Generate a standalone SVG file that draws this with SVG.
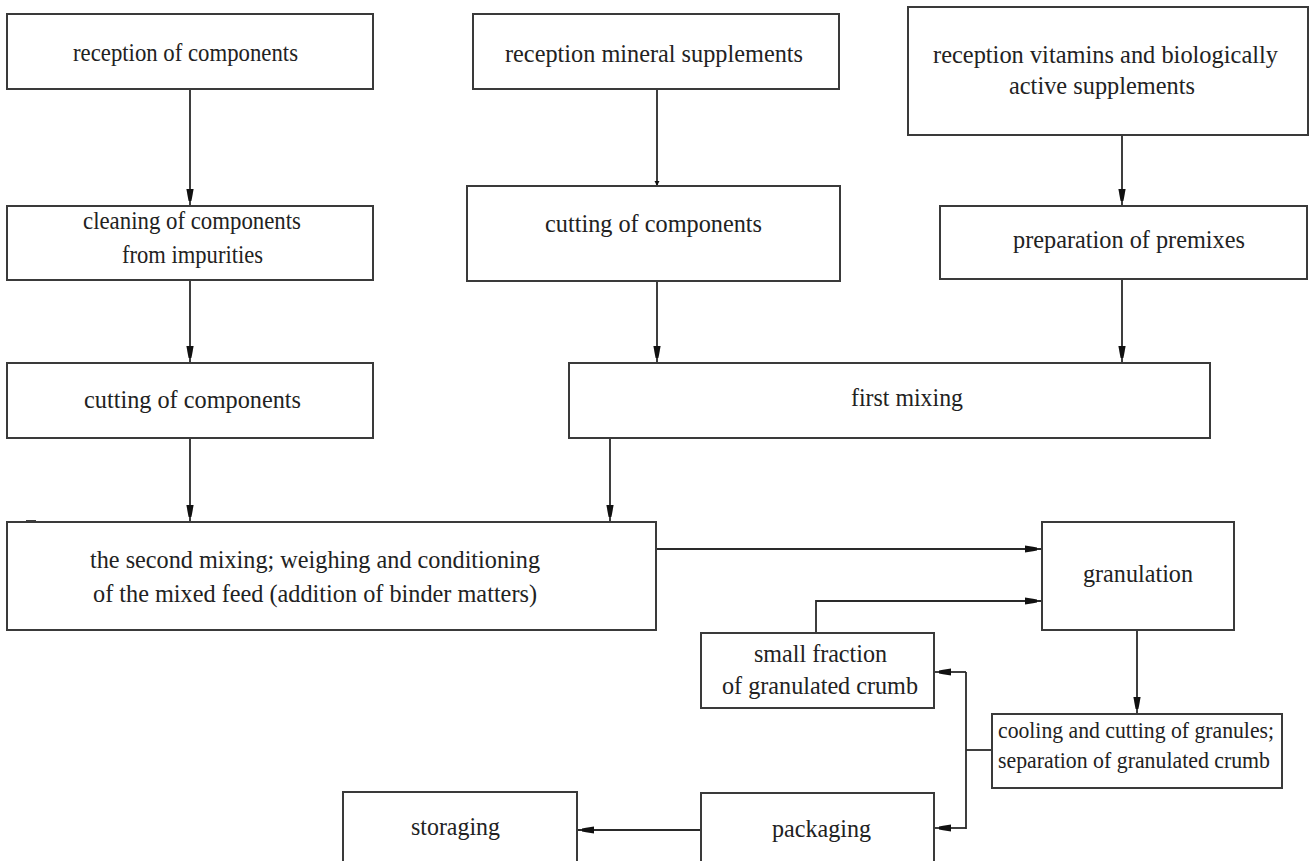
<svg xmlns="http://www.w3.org/2000/svg" width="1309" height="861" viewBox="0 0 1309 861">
<style>
.box{fill:#fff;stroke:#3a3a3a;stroke-width:2}
.t{font-family:'Liberation Serif','DejaVu Serif',serif;font-size:26px;fill:#222}
.s{font-size:22.5px}
.c{fill:none;stroke:#2a2a2a;stroke-width:1.8}
</style>
<defs>
<marker id="ah" viewBox="-18 -5 18 10" refX="0" refY="0" markerWidth="18" markerHeight="10" markerUnits="userSpaceOnUse" orient="auto">
<path d="M-17,-3.6 L-9,-2.2 L-5,-1.4 L-5,1.4 L-9,2.2 L-17,3.6 Z" fill="#111"/>
</marker>
<marker id="ahs" viewBox="-8 -4 8 8" refX="0" refY="0" markerWidth="8" markerHeight="8" markerUnits="userSpaceOnUse" orient="auto">
<path d="M-5,-2.5 L0,0 L-5,2.5 Z" fill="#111"/>
</marker>
</defs>
<rect width="1309" height="861" fill="#fff"/>
<g id="connectors">
<line class="c" x1="190" y1="89" x2="190" y2="206" marker-end="url(#ah)"/>
<line class="c" x1="190" y1="280" x2="190" y2="363" marker-end="url(#ah)"/>
<line class="c" x1="190" y1="438" x2="190" y2="522" marker-end="url(#ah)"/>
<line class="c" x1="657" y1="89" x2="657" y2="186" marker-end="url(#ahs)"/>
<line class="c" x1="657" y1="281" x2="657" y2="363" marker-end="url(#ah)"/>
<line class="c" x1="1122" y1="135" x2="1122" y2="206" marker-end="url(#ah)"/>
<line class="c" x1="1122" y1="279" x2="1122" y2="363" marker-end="url(#ah)"/>
<line class="c" x1="610" y1="438" x2="610" y2="522" marker-end="url(#ah)"/>
<line class="c" x1="656" y1="549" x2="1042" y2="549" marker-end="url(#ah)"/>
<polyline class="c" points="816,633 816,601 1042,601" marker-end="url(#ah)"/>
<line class="c" x1="1137" y1="630" x2="1137" y2="714" marker-end="url(#ah)"/>
<line class="c" x1="992" y1="750" x2="966" y2="750"/>
<line class="c" x1="966" y1="672" x2="966" y2="829"/>
<line class="c" x1="966" y1="672" x2="934" y2="672" marker-end="url(#ah)"/>
<line class="c" x1="966" y1="828" x2="934" y2="828" marker-end="url(#ah)"/>
<line class="c" x1="701" y1="830" x2="577" y2="830" marker-end="url(#ah)"/>
<line class="c" x1="26" y1="521" x2="36" y2="521" stroke-width="2"/>
</g>
<g id="reception-components">
<rect class="box" x="7" y="14" width="366" height="75"/>
<text class="t" x="73" y="61" textLength="225" lengthAdjust="spacingAndGlyphs">reception of components</text>
</g>
<g id="cleaning">
<rect class="box" x="7" y="206" width="366" height="74"/>
<text class="t" x="83" y="229" textLength="218" lengthAdjust="spacingAndGlyphs">cleaning of components</text>
<text class="t" x="122" y="263" textLength="141" lengthAdjust="spacingAndGlyphs">from impurities</text>
</g>
<g id="cutting-left">
<rect class="box" x="7" y="363" width="366" height="75"/>
<text class="t" x="84" y="408" textLength="217" lengthAdjust="spacingAndGlyphs">cutting of components</text>
</g>
<g id="second-mixing">
<rect class="box" x="7" y="522" width="649" height="108"/>
<text class="t" x="90" y="568" textLength="450" lengthAdjust="spacingAndGlyphs">the second mixing; weighing and conditioning</text>
<text class="t" x="93" y="602" textLength="444" lengthAdjust="spacingAndGlyphs">of the mixed feed (addition of binder matters)</text>
</g>
<g id="reception-mineral">
<rect class="box" x="473" y="14" width="366" height="75"/>
<text class="t" x="505" y="62" textLength="298" lengthAdjust="spacingAndGlyphs">reception mineral supplements</text>
</g>
<g id="cutting-mid">
<rect class="box" x="467" y="186" width="373" height="95"/>
<text class="t" x="545" y="232" textLength="217" lengthAdjust="spacingAndGlyphs">cutting of components</text>
</g>
<g id="reception-vitamins">
<rect class="box" x="908" y="7" width="400" height="128"/>
<text class="t" x="933" y="63" textLength="345" lengthAdjust="spacingAndGlyphs">reception vitamins and biologically</text>
<text class="t" x="1009" y="94" textLength="186" lengthAdjust="spacingAndGlyphs">active supplements</text>
</g>
<g id="premixes">
<rect class="box" x="940" y="206" width="367" height="73"/>
<text class="t" x="1013" y="248" textLength="232" lengthAdjust="spacingAndGlyphs">preparation of premixes</text>
</g>
<g id="first-mixing">
<rect class="box" x="569" y="363" width="641" height="75"/>
<text class="t" x="851" y="406" textLength="112" lengthAdjust="spacingAndGlyphs">first mixing</text>
</g>
<g id="granulation">
<rect class="box" x="1042" y="522" width="192" height="108"/>
<text class="t" x="1083" y="582" textLength="110" lengthAdjust="spacingAndGlyphs">granulation</text>
</g>
<g id="small-fraction">
<rect class="box" x="701" y="633" width="233" height="75"/>
<text class="t" x="754" y="662" textLength="133" lengthAdjust="spacingAndGlyphs">small fraction</text>
<text class="t" x="722" y="694" textLength="196" lengthAdjust="spacingAndGlyphs">of granulated crumb</text>
</g>
<g id="cooling">
<rect class="box" x="992" y="714" width="290" height="74"/>
<text class="t s" x="998" y="738" textLength="276" lengthAdjust="spacingAndGlyphs">cooling and cutting of granules;</text>
<text class="t s" x="998" y="768" textLength="272" lengthAdjust="spacingAndGlyphs">separation of granulated crumb</text>
</g>
<g id="packaging">
<rect class="box" x="701" y="793" width="233" height="100"/>
<text class="t" x="772" y="837" textLength="99" lengthAdjust="spacingAndGlyphs">packaging</text>
</g>
<g id="storaging">
<rect class="box" x="343" y="792" width="234" height="100"/>
<text class="t" x="411" y="835" textLength="89" lengthAdjust="spacingAndGlyphs">storaging</text>
</g>
</svg>
